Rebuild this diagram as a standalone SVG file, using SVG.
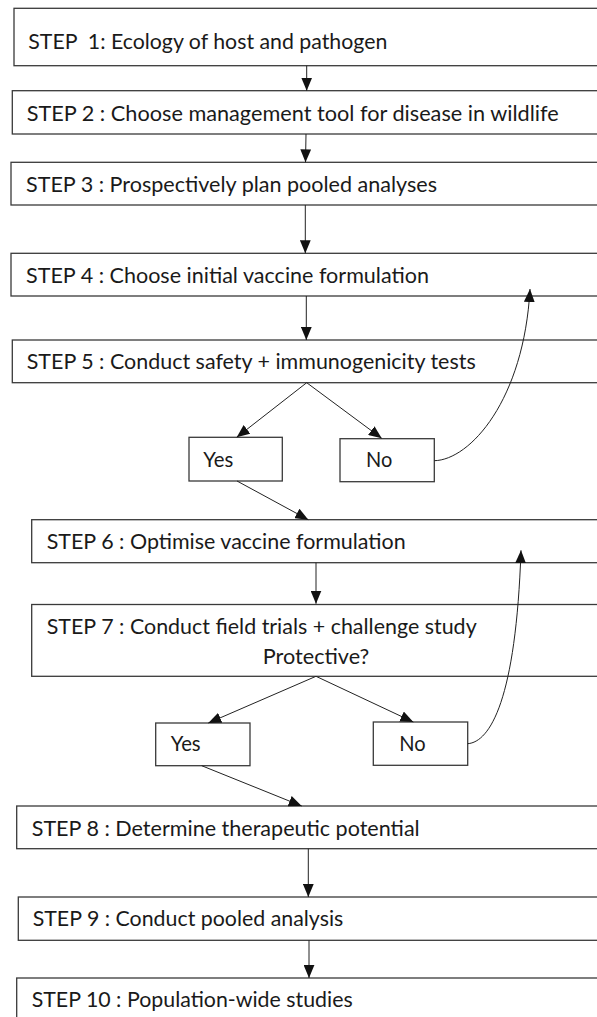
<svg xmlns="http://www.w3.org/2000/svg" width="597" height="1017" viewBox="0 0 597 1017">
<style>
.box{fill:#fff;stroke:#3a3a3a;stroke-width:1.3}
.t{font-family:Lato,"Open Sans","Liberation Sans",sans-serif;font-size:20.3px;fill:#1a1a1a}
.c{fill:none;stroke:#222;stroke-width:1}
</style>
<defs>
<marker id="ah" markerUnits="userSpaceOnUse" markerWidth="13" markerHeight="11" viewBox="0 0 12 10" refX="12" refY="5" orient="auto">
<path d="M0,0 L12,5 L0,10 z" fill="#111"/>
</marker>
</defs>
<rect width="597" height="1017" fill="#fff"/>
<g id="step1"><rect class="box" x="14" y="8.3" width="600" height="57.4"/><text class="t" x="28.3" y="49" textLength="359" lengthAdjust="spacingAndGlyphs" xml:space="preserve">STEP  1: Ecology of host and pathogen</text></g>
<g id="step2"><rect class="box" x="12.3" y="90.7" width="600" height="43.3"/><text class="t" x="26.7" y="120.5" textLength="532" lengthAdjust="spacingAndGlyphs">STEP 2 : Choose management tool for disease in wildlife</text></g>
<g id="step3"><rect class="box" x="11" y="162.3" width="600" height="42.7"/><text class="t" x="26" y="191.5" textLength="411" lengthAdjust="spacingAndGlyphs">STEP 3 : Prospectively plan pooled analyses</text></g>
<g id="step4"><rect class="box" x="11" y="253.3" width="600" height="42.7"/><text class="t" x="26" y="282.8" textLength="403" lengthAdjust="spacingAndGlyphs">STEP 4 : Choose initial vaccine formulation</text></g>
<g id="step5"><rect class="box" x="12.3" y="340" width="600" height="42.7"/><text class="t" x="26.7" y="368.8" textLength="449" lengthAdjust="spacingAndGlyphs">STEP 5 : Conduct safety + immunogenicity tests</text></g>
<g id="yes1"><rect class="box" x="189" y="437.3" width="93.3" height="43.7"/><text class="t" x="203.3" y="467" textLength="30" lengthAdjust="spacingAndGlyphs">Yes</text></g>
<g id="no1"><rect class="box" x="340" y="438.7" width="94.3" height="43"/><text class="t" x="366" y="467" textLength="26.3" lengthAdjust="spacingAndGlyphs">No</text></g>
<g id="step6"><rect class="box" x="31.7" y="519.7" width="600" height="43"/><text class="t" x="46.7" y="549.2" textLength="359" lengthAdjust="spacingAndGlyphs">STEP 6 : Optimise vaccine formulation</text></g>
<g id="step7"><rect class="box" x="31.7" y="604.5" width="600" height="71.8"/><text class="t" x="46.7" y="634.2" textLength="430" lengthAdjust="spacingAndGlyphs">STEP 7 : Conduct field trials + challenge study</text><text class="t" x="262.7" y="663.5" textLength="106.6" lengthAdjust="spacingAndGlyphs">Protective?</text></g>
<g id="yes2"><rect class="box" x="155.7" y="723" width="94.3" height="42.7"/><text class="t" x="170.7" y="751.3" textLength="30" lengthAdjust="spacingAndGlyphs">Yes</text></g>
<g id="no2"><rect class="box" x="373.3" y="722" width="94.4" height="43.3"/><text class="t" x="399.3" y="751.3" textLength="26.4" lengthAdjust="spacingAndGlyphs">No</text></g>
<g id="step8"><rect class="box" x="16.7" y="806" width="600" height="42.7"/><text class="t" x="31.7" y="835.8" textLength="388" lengthAdjust="spacingAndGlyphs">STEP 8 : Determine therapeutic potential</text></g>
<g id="step9"><rect class="box" x="18.3" y="897" width="600" height="43.3"/><text class="t" x="32.7" y="926.3" textLength="310.6" lengthAdjust="spacingAndGlyphs">STEP 9 : Conduct pooled analysis</text></g>
<g id="step10"><rect class="box" x="16.7" y="978" width="600" height="60"/><text class="t" x="31.7" y="1006.5" textLength="321" lengthAdjust="spacingAndGlyphs">STEP 10 : Population-wide studies</text></g>
<g id="connectors">
<path class="c" marker-end="url(#ah)" d="M306.7,65.7 L306.7,90.7"/>
<path class="c" marker-end="url(#ah)" d="M306,134 L305.5,162.3"/>
<path class="c" marker-end="url(#ah)" d="M305.3,205 L305.3,253.3"/>
<path class="c" marker-end="url(#ah)" d="M306.3,296 L306.3,340"/>
<path class="c" marker-end="url(#ah)" d="M306.7,382.7 L236.7,437.3"/>
<path class="c" marker-end="url(#ah)" d="M306.7,382.7 L381.7,438.3"/>
<path class="c" marker-end="url(#ah)" d="M434.3,460.7 C470,460 524,400 530,289"/>
<path class="c" marker-end="url(#ah)" d="M237,481 L308.3,519.7"/>
<path class="c" marker-end="url(#ah)" d="M316,562.7 L316,603.7"/>
<path class="c" marker-end="url(#ah)" d="M316,676.3 L208.3,723"/>
<path class="c" marker-end="url(#ah)" d="M316,676.3 L413.3,722"/>
<path class="c" marker-end="url(#ah)" d="M467.7,743.7 C490,742 516,700 521,550.3"/>
<path class="c" marker-end="url(#ah)" d="M201.7,765.7 L301.7,806"/>
<path class="c" marker-end="url(#ah)" d="M308.3,848.7 L308.3,897"/>
<path class="c" marker-end="url(#ah)" d="M309,940.3 L309,978"/>
</g>
</svg>
